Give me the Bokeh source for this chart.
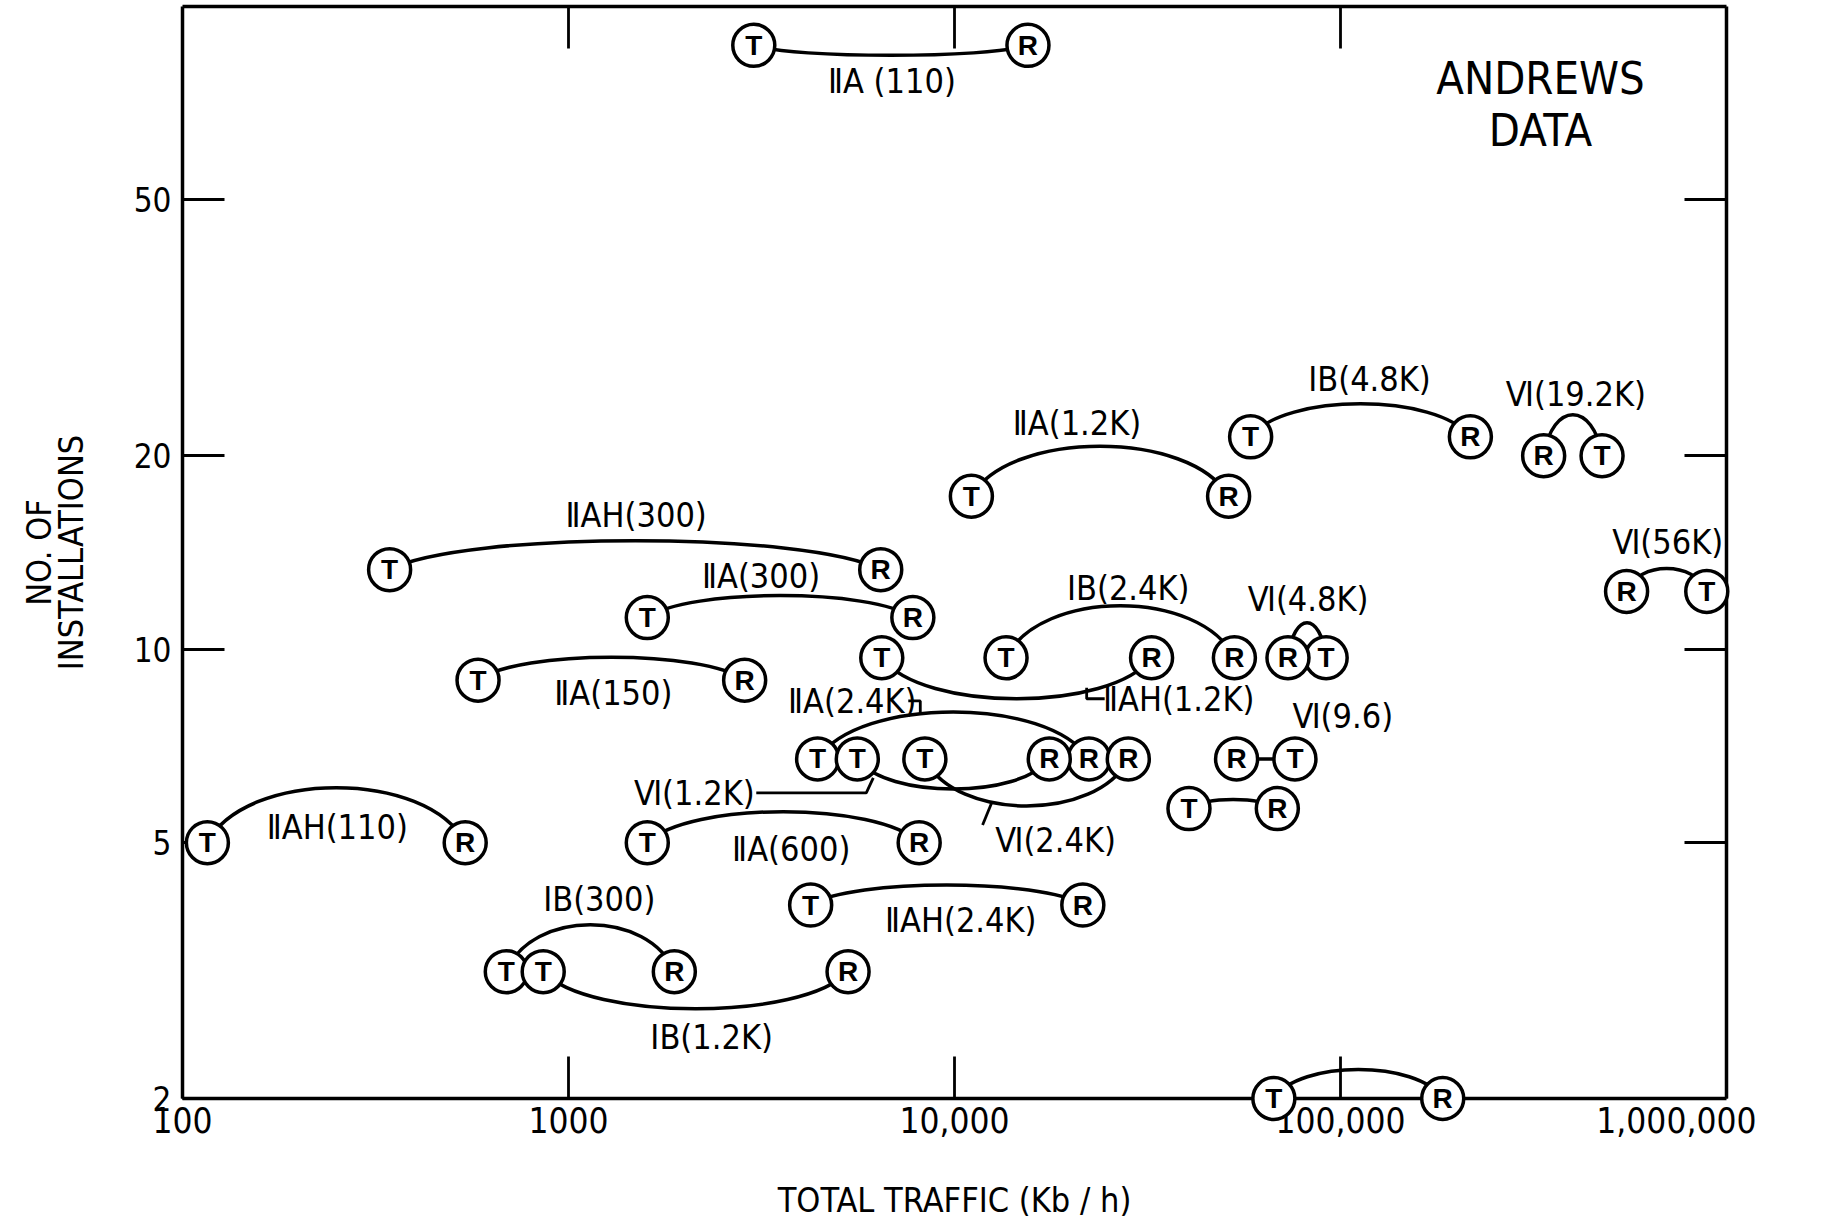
import math
from bokeh.plotting import figure
from bokeh.models import LogAxis, FixedTicker, Label, ColumnDataSource, CustomJSTickFormatter
from bokeh.core.properties import value
from bokeh.embed import file_html
from bokeh.resources import INLINE

# ---------------- data ----------------
pair_labels = ["ⅡA (110)", "ⅡAH(110)", "ⅠB(300)", "ⅠB(1.2K)", "ⅡAH(300)", "ⅡA(300)",
               "ⅡA(150)", "ⅡA(600)", "ⅡAH(2.4K)", "ⅡA(1.2K)", "ⅠB(4.8K)", "Ⅵ(19.2K)",
               "Ⅵ(56K)", "ⅠB(2.4K)", "ⅡAH(1.2K)", "ⅡA(2.4K)", "Ⅵ(1.2K)", "Ⅵ(2.4K)",
               "Ⅵ(4.8K)", "Ⅵ(9.6)", "", ""]
traffic_T = [3020, 116, 690, 860, 344, 1600, 583, 1600, 4240, 11060, 58500, 476000,
             889000, 13600, 6480, 4420, 5600, 8380, 91800, 76200, 40500, 67200]
traffic_R = [15500, 540, 1880, 5300, 6440, 7800, 2860, 8100, 21500, 51300, 217000, 336000,
             551000, 53100, 32400, 22300, 17600, 28200, 73100, 53800, 68600, 184000]
installations = [87, 5, 3.15, 3.15, 13.3, 11.2, 8.95, 5, 4, 17.3, 21.4, 20,
                 12.3, 9.7, 9.7, 6.75, 6.75, 6.75, 9.7, 6.75, 5.65, 2.0]

x_ticks = [100, 1000, 10000, 100000, 1000000]
x_tick_labels = ["100", "1000", "10,000", "100,000", "1,000,000"]
y_ticks = [2, 5, 10, 20, 50]
y_tick_labels = ["2", "5", "10", "20", "50"]

# ---------------- styling (pixels) ----------------
arc_bulge_px = [-10, 55, 47, -37, 29, 22, 23, 31, 20, 50, 33, 41,
                23, 52, -41, 47, -30, -47, 35, 0, 9, 29]
label_dx_px = [1, 1, 9, 16, 1, -19, 2, 8, 14, -23, 9, 3, 1, 8, 162, -101, -259, 29, 1, 77, 0, 0]
label_dy_px = [36, -16, -73, 65, -55, -42, 13, 6, 15, -73, -58, -62, -49, -70, 41, -58, 34, 81, -59, -43, 0, 0]
leader_px = {14: [(70, 30), (70, 41), (88, 41)],
             15: [(-45, -58), (-33, -58), (-33, -44)],
             16: [(-197, 34), (-87, 34), (-80, 19)],
             17: [(-44, 66), (-35, 44)]}

COND = "DejaVu Sans Condensed, Liberation Sans"
FW, FH = 1544, 1092
X0, X1 = 100, 1e6
Y0, Y1 = 2, 100
PXX = FW / math.log10(X1 / X0)
PXY = FH / math.log10(Y1 / Y0)


def shift(x, y, dx, dy):
    """move a data point by screen pixels (dy positive = down)"""
    return x * 10 ** (dx / PXX), y * 10 ** (-dy / PXY)


p = figure(x_axis_type="log", y_axis_type="log", x_range=(X0, X1), y_range=(Y0, Y1),
           frame_width=FW, frame_height=FH, output_backend="svg", toolbar_location=None,
           min_border_left=182, min_border_right=30, min_border_top=6, min_border_bottom=0,
           background_fill_color="white", border_fill_color="white")
p.outline_line_color = None
p.xgrid.visible = False
p.ygrid.visible = False

# ---- arcs (cubic bezier between T and R) ----
x0s, y0s, x1s, y1s, cx0s, cy0s, cx1s, cy1s = [], [], [], [], [], [], [], []
for t, r, y, b in zip(traffic_T, traffic_R, installations, arc_bulge_px):
    lt, lr = math.log10(t), math.log10(r)
    k = b / 0.75
    cyv = y * 10 ** (k / PXY)
    x0s.append(t); y0s.append(y); x1s.append(r); y1s.append(y)
    cx0s.append(10 ** (lt + 0.15 * (lr - lt))); cy0s.append(cyv)
    cx1s.append(10 ** (lr - 0.15 * (lr - lt))); cy1s.append(cyv)
p.bezier(x0=x0s, y0=y0s, x1=x1s, y1=y1s, cx0=cx0s, cy0=cy0s, cx1=cx1s, cy1=cy1s,
         line_color="black", line_width=3.5)

# ---- leader lines ----
lxs, lys = [], []
for i, pts in leader_px.items():
    ax = math.sqrt(traffic_T[i] * traffic_R[i])
    ay = installations[i]
    xs, ys = [], []
    for dx, dy in pts:
        xx, yy = shift(ax, ay, dx, dy)
        xs.append(xx); ys.append(yy)
    lxs.append(xs); lys.append(ys)
p.multi_line(xs=lxs, ys=lys, line_color="black", line_width=2.8)

# ---- pair labels ----
lab = dict(x=[], y=[], text=[], dx=[], dy=[])
for i, s in enumerate(pair_labels):
    if not s:
        continue
    lab["x"].append(math.sqrt(traffic_T[i] * traffic_R[i]))
    lab["y"].append(installations[i])
    lab["text"].append(s)
    lab["dx"].append(label_dx_px[i])
    lab["dy"].append(label_dy_px[i])
p.text(x="x", y="y", text="text", x_offset="dx", y_offset="dy", source=ColumnDataSource(lab),
       text_font=value(COND), text_font_size="34px", text_align="center",
       text_baseline="middle", text_color="black")

# ---- T / R circles ----
cx = list(traffic_T) + list(traffic_R)
cy = list(installations) + list(installations)
letters = ["T"] * len(traffic_T) + ["R"] * len(traffic_R)
circ_src = ColumnDataSource(dict(x=cx, y=cy, letter=letters))
p.scatter(x="x", y="y", source=circ_src, marker="circle", size=42, fill_color="white",
          line_color="black", line_width=3.5, level="overlay")
p.text(x="x", y="y", text="letter", source=circ_src, text_font=value("Liberation Sans"),
       text_font_style="bold", text_font_size="28px", text_align="center",
       text_baseline="middle", text_color="black", level="overlay")

# ---- axes ----
FMT_CODE = """
let best = 0;
for (let i = 0; i < tk.length; i++) {
  if (Math.abs(Math.log(tk[i]) - Math.log(tick)) < Math.abs(Math.log(tk[best]) - Math.log(tick))) best = i;
}
return lb[best];
"""
fmt_x = CustomJSTickFormatter(args=dict(tk=x_ticks, lb=x_tick_labels), code=FMT_CODE)
fmt_y = CustomJSTickFormatter(args=dict(tk=y_ticks, lb=y_tick_labels), code=FMT_CODE)

xa = p.xaxis[0]
ya = p.yaxis[0]
xa.ticker = FixedTicker(ticks=x_ticks)
xa.formatter = fmt_x
ya.ticker = FixedTicker(ticks=y_ticks)
ya.formatter = fmt_y

top = LogAxis(ticker=FixedTicker(ticks=x_ticks[1:-1]), major_label_text_font_size="1px",
              major_label_text_color=None, major_label_standoff=0)
right = LogAxis(ticker=FixedTicker(ticks=y_ticks[1:]), major_label_text_font_size="1px",
                major_label_text_color=None, major_label_standoff=0)
p.add_layout(top, "above")
p.add_layout(right, "right")

for axis in [xa, ya, top, right]:
    axis.axis_line_width = 3.5
    axis.axis_line_color = "black"
    axis.major_tick_in = 42
    axis.major_tick_out = 0
    axis.major_tick_line_width = 2.8
    axis.major_tick_line_color = "black"
    axis.minor_tick_line_color = None

xa.major_label_text_font = COND
xa.major_label_text_font_size = "35px"
xa.major_label_text_color = "black"
xa.major_label_standoff = 8
xa.axis_label = "TOTAL TRAFFIC (Kb / h)"
xa.axis_label_text_font = COND
xa.axis_label_text_font_size = "34px"
xa.axis_label_text_font_style = "normal"
xa.axis_label_text_color = "black"
xa.axis_label_standoff = 44

ya.major_label_text_font = COND
ya.major_label_text_font_size = "33px"
ya.major_label_text_color = "black"
ya.major_label_standoff = 11
ya.axis_label = "NO. OF\nINSTALLATIONS"
ya.axis_label_text_font = COND
ya.axis_label_text_font_size = "34px"
ya.axis_label_text_font_style = "normal"
ya.axis_label_text_color = "black"
ya.axis_label_text_line_height = 0.8
ya.axis_label_standoff = 40

# ---- title block ----
for txt, dy in [("ANDREWS", 72), ("DATA", 124)]:
    lx, ly = shift(X1, Y1, -186, dy)
    p.add_layout(Label(x=lx, y=ly, text=txt, text_align="center", text_baseline="middle",
                       text_font=COND, text_font_size="45px", text_color="black"))

open("out.html", "w").write(file_html(p, INLINE))
